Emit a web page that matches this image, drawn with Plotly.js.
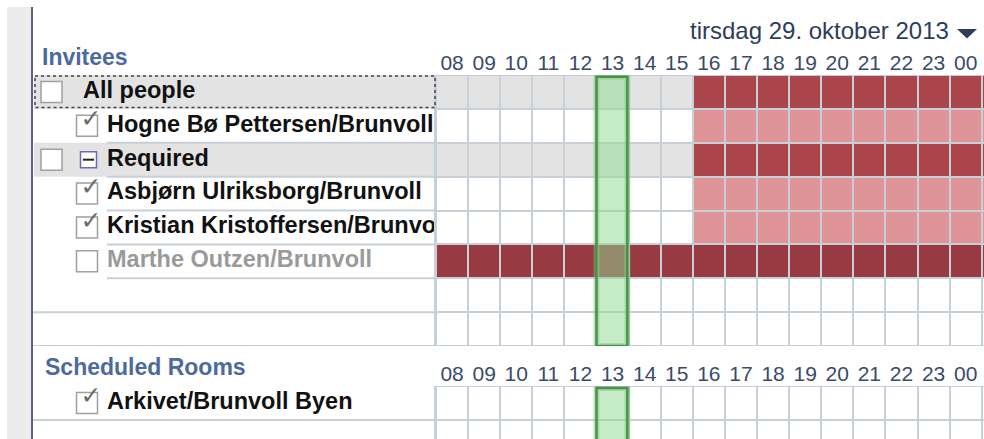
<!DOCTYPE html>
<html><head><meta charset="utf-8">
<script src="https://cdn.plot.ly/plotly-3.0.1.min.js"></script>
<style>html,body{margin:0;padding:0;background:#fff;overflow:hidden}#chart{width:984px;height:439px}</style>
</head><body><div id="chart"></div>
<script>
// ---------- data ----------
const dateLabel = 'tirsdag 29. oktober 2013';
const inviteesTitle = 'Invitees';
const roomsTitle = 'Scheduled Rooms';
const hours = ['08','09','10','11','12','13','14','15','16','17','18','19','20','21','22','23','00','01'];
const meetingStart = '13';
const meetingLength = 1;

const inviteeNames = ['All people','Hogne Bø Pettersen/Brunvoll','Required','Asbjørn Ulriksborg/Brunvoll','Kristian Kristoffersen/Brunvoll','Marthe Outzen/Brunvoll','',''];
const inviteeKinds = ['group','person','group','person','person','inactive','blank','blank'];
const inviteeChecked = [false,true,false,true,true,false,null,null];
const inviteeExpander = [false,false,true,false,false,false,false,false];

// 1 = busy, 0 = free
const busyAllPeople = [0,0,0,0,0,0,0,0,1,1,1,1,1,1,1,1,1,1];
const busyHogne     = [0,0,0,0,0,0,0,0,1,1,1,1,1,1,1,1,1,1];
const busyRequired  = [0,0,0,0,0,0,0,0,1,1,1,1,1,1,1,1,1,1];
const busyAsbjorn   = [0,0,0,0,0,0,0,0,1,1,1,1,1,1,1,1,1,1];
const busyKristian  = [0,0,0,0,0,0,0,0,1,1,1,1,1,1,1,1,1,1];
const busyMarthe    = [1,1,1,1,1,1,1,1,1,1,1,1,1,1,1,1,1,1];
const busyBlank     = [0,0,0,0,0,0,0,0,0,0,0,0,0,0,0,0,0,0];

const roomNames = ['Arkivet/Brunvoll Byen',''];
const roomKinds = ['person','blank'];
const roomChecked = [true,null];
const busyArkivet = [0,0,0,0,0,0,0,0,0,0,0,0,0,0,0,0,0,0];

// ---------- layout helpers ----------
const W = 984, H = 439;
const gridLeft = 436, colW = 32.1, rowH = 33.875;
const invTop = 75, roomTop = 386;
const px = x => x / W, py = y => 1 - y / H;
const FONT = 'Liberation Sans, Arial, sans-serif';
const GRID = '#c7cfd8';

const inviteeBusy = [busyAllPeople,busyHogne,busyRequired,busyAsbjorn,busyKristian,busyMarthe,busyBlank,busyBlank];
const roomBusy = [busyArkivet,busyBlank];

function code(kind, b){
  if(kind==='group') return b?3:1;
  if(kind==='person') return b?2:0;
  if(kind==='inactive') return b?4:0;
  return 0;
}
const cs = [[0,'#ffffff'],[0.2,'#ffffff'],[0.2,'#e3e3e3'],[0.4,'#e3e3e3'],[0.4,'#df9598'],[0.6,'#df9598'],
            [0.6,'#ab454c'],[0.8,'#ab454c'],[0.8,'#973a42'],[1,'#973a42']];
const xIdx = hours.map((h,i)=>i);

const invZ = inviteeBusy.map((row,r)=>row.map(b=>code(inviteeKinds[r],b)));
const roomZ = roomBusy.map((row,r)=>row.map(b=>code(roomKinds[r],b)));

const traces = [];
traces.push({type:'heatmap', x:xIdx, y:inviteeNames.map((n,i)=>i), z:invZ, xaxis:'x', yaxis:'y',
  colorscale:cs, zmin:-0.5, zmax:4.5, showscale:false, xgap:2, ygap:2, hoverinfo:'skip'});
traces.push({type:'heatmap', x:xIdx, y:roomNames.map((n,i)=>i), z:roomZ, xaxis:'x2', yaxis:'y2',
  colorscale:cs, zmin:-0.5, zmax:4.5, showscale:false, xgap:2, ygap:2, hoverinfo:'skip'});

function labelTraces(names, kinds, checked, expander, xa, ya){
  const out = [];
  const idx = names.map((n,i)=>i).filter(i=>kinds[i]!=='blank');
  out.push({type:'scatter', mode:'text', xaxis:xa, yaxis:ya, cliponaxis:true,
    x: idx.map(i=> (kinds[i]==='group' && !expander[i]) ? 83 : 107),
    y: idx, text: idx.map(i=>names[i]), textposition:'middle right',
    textfont:{family:FONT, size:23.5, weight:'bold', color: idx.map(i=>kinds[i]==='inactive'?'#9a9a9a':'#111111')},
    hoverinfo:'skip'});
  out.push({type:'scatter', mode:'markers', xaxis:xa, yaxis:ya, cliponaxis:false,
    x: idx.map(i=> kinds[i]==='group' ? 51.5 : 87), y: idx,
    marker:{symbol:'square', size:21, color:'#ffffff', line:{color:'#a0a0a0', width:1.5}}, hoverinfo:'skip'});
  const ex = idx.filter(i=>expander[i]);
  if(ex.length){
    out.push({type:'scatter', mode:'markers', xaxis:xa, yaxis:ya, x: ex.map(()=>88.5), y: ex,
      marker:{symbol:'square', size:16, color:'#ffffff', line:{color:'#6c6cb4', width:1.5}}, hoverinfo:'skip'});
    out.push({type:'scatter', mode:'markers', xaxis:xa, yaxis:ya, x: ex.map(()=>88.5), y: ex,
      marker:{symbol:'line-ew', size:8, line:{color:'#222222', width:2}}, hoverinfo:'skip'});
  }
  const ck = idx.filter(i=>checked[i]===true);
  out.push({type:'scatter', mode:'text', xaxis:xa, yaxis:ya, cliponaxis:false,
    x: ck.map(()=>91), y: ck.map(i=>i-0.14), text: ck.map(()=>'✓'), textposition:'middle center',
    textfont:{family:'DejaVu Sans', size:25, color:'#6b6b6b'}, hoverinfo:'skip'});
  return out;
}
traces.push(...labelTraces(inviteeNames, inviteeKinds, inviteeChecked, inviteeExpander, 'x3', 'y'));
traces.push(...labelTraces(roomNames, roomKinds, roomChecked, [false,false], 'x4', 'y2'));

// ---------- shapes ----------
const shapes = [];
shapes.push({type:'rect', xref:'x domain', yref:'y domain', x0:0, x1:1, y0:0, y1:1, fillcolor:GRID, line:{width:0}, layer:'below'});
shapes.push({type:'rect', xref:'x2 domain', yref:'y2 domain', x0:0, x1:1, y0:0, y1:1, fillcolor:GRID, line:{width:0}, layer:'below'});
shapes.push({type:'rect', xref:'paper', yref:'paper', x0:px(7), x1:px(31), y0:0, y1:py(7), fillcolor:'#ececec', line:{width:0}, layer:'below'});
shapes.push({type:'line', xref:'paper', yref:'paper', x0:px(32), x1:px(32), y0:0, y1:py(7), line:{color:'#56627f', width:2}});
inviteeKinds.forEach((k,i)=>{ if(k==='group') shapes.push({type:'rect', xref:'x3', yref:'y', x0:34, x1:gridLeft, y0:i-0.5, y1:i+0.5, fillcolor:'#e3e3e3', line:{width:0}, layer:'below'}); });
function seps(kinds, xa, ya, n){
  kinds.forEach((k,i)=>{
    if(k==='group' && i===0) return;
    const x0 = (k==='blank') ? 33 : 107;
    shapes.push({type:'line', xref:xa, yref:ya, x0:x0, x1:gridLeft, y0:i+0.5, y1:i+0.5, line:{color:GRID, width:2}});
  });
  shapes.push({type:'line', xref:xa, yref:ya, x0:435, x1:435, y0:-0.5, y1:n, line:{color:GRID, width:2}});
}
seps(inviteeKinds, 'x3', 'y', 7.5);
roomKinds.forEach((k,i)=>{ if(i===0) shapes.push({type:'line', xref:'x4', yref:'y2', x0:33, x1:gridLeft, y0:i+0.5, y1:i+0.5, line:{color:GRID, width:2}}); });
shapes.push({type:'line', xref:'x4', yref:'y2', x0:435, x1:435, y0:-0.5, y1:2, line:{color:GRID, width:2}});
shapes.push({type:'rect', xref:'x3', yref:'y', x0:35, x1:435, y0:-0.47, y1:0.46, line:{color:'#444', width:1.5, dash:'dot'}});
const mi = hours.indexOf(meetingStart);
[['x','y',-0.45,7.5],['x2','y2',-0.44,3]].forEach(([xa,ya,y0,y1])=>{
  shapes.push({type:'rect', xref:xa, yref:ya, x0:mi-0.5, x1:mi-0.5+meetingLength-0.04, y0:y0, y1:y1, fillcolor:'rgba(0,0,0,0)', line:{color:'rgba(110,200,110,0.5)', width:6}});
  shapes.push({type:'rect', xref:xa, yref:ya, x0:mi-0.5, x1:mi-0.5+meetingLength-0.04, y0:y0, y1:y1, fillcolor:'rgba(143,217,143,0.5)', line:{color:'rgba(70,135,70,0.9)', width:2.5}});
});
shapes.push({type:'path', xref:'paper', yref:'paper', path:`M ${px(957)} ${py(29)} L ${px(977)} ${py(29)} L ${px(967)} ${py(38.5)} Z`, fillcolor:'#2d3d5b', line:{width:0}});

const annotations = [
  {xref:'paper', yref:'paper', x:px(40), y:py(57), xanchor:'left', yanchor:'middle', showarrow:false, text:inviteesTitle,
   font:{family:FONT, size:23, weight:'bold', color:'#4b6a9e'}},
  {xref:'paper', yref:'paper', x:px(43), y:py(367), xanchor:'left', yanchor:'middle', showarrow:false, text:roomsTitle,
   font:{family:FONT, size:23, weight:'bold', color:'#4b6a9e'}},
  {xref:'paper', yref:'paper', x:px(951), y:py(30), xanchor:'right', yanchor:'middle', showarrow:false, text:dateLabel,
   font:{family:FONT, size:24, color:'#2d3d5b'}}
];

const xRange = [-0.5, -0.5 + (W-gridLeft)/colW];
const tickAxis = (anchor)=>({domain:[px(gridLeft),1], range:xRange, anchor:anchor, side:'top', tickmode:'array',
  tickvals:xIdx, ticktext:hours, tickfont:{family:FONT, size:21, color:'#3b4a68'}, ticks:'', showgrid:false,
  zeroline:false, showline:false, fixedrange:true});
const roomVisible = (H-roomTop)/rowH;
const layout = {
  width:W, height:H, margin:{l:0,r:0,t:0,b:0}, paper_bgcolor:'#ffffff', plot_bgcolor:'rgba(0,0,0,0)',
  showlegend:false,
  xaxis: tickAxis('y'),
  xaxis2: tickAxis('y2'),
  xaxis3: {domain:[0,px(gridLeft)], range:[0,gridLeft], anchor:'y', visible:false, fixedrange:true},
  xaxis4: {domain:[0,px(gridLeft)], range:[0,gridLeft], anchor:'y2', visible:false, fixedrange:true},
  yaxis: {domain:[py(invTop+inviteeNames.length*rowH), py(invTop)], range:[inviteeNames.length-0.5,-0.5], visible:false, fixedrange:true},
  yaxis2: {domain:[0, py(roomTop)], range:[roomVisible-0.5,-0.5], visible:false, fixedrange:true},
  shapes:shapes, annotations:annotations
};
Plotly.newPlot('chart', traces, layout, {displayModeBar:false, staticPlot:true});
</script></body></html>
